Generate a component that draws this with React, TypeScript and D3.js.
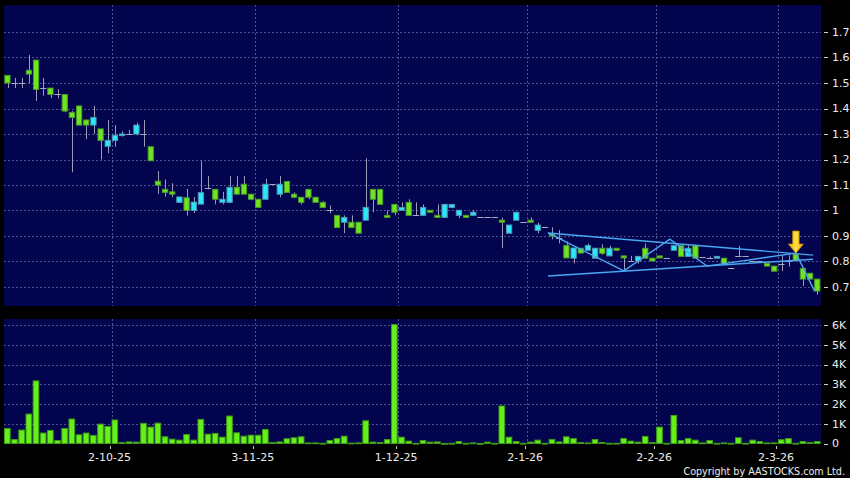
import React from 'react';
import * as d3 from 'd3';

const W = 850;
const H = 478;

// OHLC per trading day (index 0..113)
const opens = [
  1.53, 1.50, 1.50, 1.55, 1.59, 1.48, 1.48, 1.455, 1.455, 1.385,
  1.41, 1.355, 1.335, 1.32, 1.252, 1.275, 1.295, 1.30, 1.30, 1.30,
  1.25, 1.115, 1.083, 1.073, 1.032, 1.05, 1.00, 1.025, 1.09, 1.083,
  1.032, 1.032, 1.091, 1.103, 1.064, 1.044, 1.044, 1.103, 1.064, 1.114,
  1.064, 1.052, 1.083, 1.052, 1.032, 1.001, 0.981, 0.954, 0.954, 0.954,
  0.962, 1.083, 1.083, 0.981, 1.024, 1.001, 1.032, 0.981, 0.981, 1.001,
  0.981, 0.973, 1.012, 0.981, 0.981, 0.981, 0.973, 0.973, 0.973, 0.962,
  0.911, 0.962, 0.954, 0.962, 0.922, 0.934, 0.908, 0.893, 0.863, 0.813,
  0.852, 0.844, 0.813, 0.852, 0.822, 0.852, 0.822, 0.80, 0.802, 0.852,
  0.813, 0.822, 0.813, 0.844, 0.862, 0.82, 0.862, 0.818, 0.813, 0.813,
  0.813, 0.773, 0.82, 0.82, 0.80, 0.80, 0.792, 0.782, 0.792, 0.80,
  0.829, 0.773, 0.754, 0.731,
];
const highs = [
  1.53, 1.52, 1.52, 1.61, 1.59, 1.52, 1.48, 1.475, 1.455, 1.39,
  1.41, 1.355, 1.41, 1.32, 1.355, 1.335, 1.31, 1.315, 1.345, 1.355,
  1.25, 1.155, 1.122, 1.107, 1.053, 1.085, 1.053, 1.195, 1.135, 1.083,
  1.073, 1.135, 1.135, 1.135, 1.064, 1.044, 1.124, 1.103, 1.135, 1.114,
  1.071, 1.052, 1.083, 1.052, 1.036, 1.02, 0.981, 0.981, 0.981, 0.954,
  1.205, 1.083, 1.083, 1.001, 1.024, 1.032, 1.044, 1.032, 1.024, 1.001,
  1.024, 1.024, 1.024, 1.001, 0.981, 1.001, 0.973, 0.973, 0.973, 0.972,
  0.943, 0.993, 0.954, 0.973, 0.952, 0.934, 0.934, 0.923, 0.878, 0.853,
  0.852, 0.87, 0.852, 0.867, 0.862, 0.852, 0.822, 0.822, 0.82, 0.871,
  0.813, 0.822, 0.813, 0.862, 0.862, 0.862, 0.862, 0.818, 0.82, 0.82,
  0.813, 0.773, 0.862, 0.82, 0.80, 0.80, 0.792, 0.782, 0.825, 0.825,
  0.829, 0.773, 0.754, 0.731,
];
const lows = [
  1.48, 1.48, 1.48, 1.50, 1.43, 1.45, 1.44, 1.44, 1.385, 1.15,
  1.335, 1.28, 1.30, 1.20, 1.225, 1.25, 1.29, 1.30, 1.295, 1.25,
  1.195, 1.065, 1.054, 1.052, 1.032, 0.98, 0.99, 1.025, 1.083, 1.024,
  1.024, 1.032, 1.064, 1.064, 1.04, 1.012, 1.044, 1.103, 1.052, 1.071,
  1.048, 1.024, 1.044, 1.032, 1.012, 0.989, 0.933, 0.911, 0.933, 0.911,
  0.962, 0.993, 1.024, 0.973, 0.981, 1.001, 0.981, 0.981, 0.981, 0.993,
  0.973, 0.973, 1.012, 0.97, 0.973, 0.981, 0.973, 0.973, 0.973, 0.852,
  0.911, 0.962, 0.954, 0.954, 0.911, 0.934, 0.887, 0.871, 0.814, 0.792,
  0.833, 0.844, 0.813, 0.826, 0.822, 0.844, 0.763, 0.80, 0.792, 0.813,
  0.802, 0.814, 0.813, 0.844, 0.82, 0.82, 0.813, 0.818, 0.813, 0.813,
  0.792, 0.773, 0.82, 0.82, 0.80, 0.80, 0.782, 0.762, 0.762, 0.78,
  0.803, 0.704, 0.731, 0.67,
];
const closes = [
  1.50, 1.50, 1.50, 1.535, 1.475, 1.48, 1.455, 1.455, 1.39, 1.365,
  1.335, 1.335, 1.365, 1.275, 1.275, 1.295, 1.30, 1.30, 1.335, 1.30,
  1.195, 1.10, 1.071, 1.064, 1.053, 1.00, 1.033, 1.07, 1.09, 1.044,
  1.044, 1.091, 1.064, 1.064, 1.044, 1.012, 1.103, 1.103, 1.103, 1.071,
  1.052, 1.032, 1.052, 1.032, 1.012, 1.001, 0.933, 0.973, 0.933, 0.911,
  1.012, 1.044, 1.024, 0.973, 0.993, 1.012, 0.981, 0.981, 1.012, 0.993,
  0.973, 1.024, 1.024, 1.001, 0.973, 0.993, 0.973, 0.973, 0.973, 0.954,
  0.943, 0.993, 0.954, 0.954, 0.943, 0.934, 0.90, 0.893, 0.814, 0.853,
  0.833, 0.863, 0.852, 0.832, 0.852, 0.844, 0.814, 0.80, 0.82, 0.813,
  0.802, 0.814, 0.813, 0.862, 0.82, 0.852, 0.813, 0.818, 0.813, 0.82,
  0.792, 0.773, 0.82, 0.82, 0.80, 0.80, 0.782, 0.762, 0.792, 0.80,
  0.803, 0.731, 0.731, 0.684,
];
// volume in thousands of shares
const volumes = [
  0.76, 0.20, 0.68, 1.49, 3.17, 0.53, 0.66, 0.15, 0.76, 1.24,
  0.44, 0.53, 0.41, 0.98, 0.86, 1.19, 0.05, 0.08, 0.07, 1.02,
  0.83, 1.03, 0.34, 0.22, 0.17, 0.46, 0.17, 1.22, 0.47, 0.51,
  0.32, 1.39, 0.54, 0.37, 0.42, 0.42, 0.71, 0.05, 0.08, 0.24,
  0.29, 0.34, 0.03, 0.03, 0.01, 0.15, 0.25, 0.37, 0.02, 0.03,
  1.15, 0.07, 0.05, 0.20, 6.02, 0.32, 0.12, 0.01, 0.15, 0.07,
  0.08, 0.0, 0.01, 0.10, 0.01, 0.03, 0.0, 0.07, 0.01, 1.90,
  0.32, 0.10, 0.01, 0.07, 0.17, 0.01, 0.20, 0.08, 0.34, 0.25,
  0.05, 0.03, 0.20, 0.05, 0.01, 0.01, 0.25, 0.12, 0.07, 0.36,
  0.05, 0.83, 0.01, 1.42, 0.15, 0.25, 0.17, 0.03, 0.15, 0.01,
  0.03, 0.01, 0.29, 0.01, 0.17, 0.10, 0.03, 0.03, 0.19, 0.25,
  0.01, 0.10, 0.05, 0.10,
];

const priceTicks = [0.7, 0.8, 0.9, 1.0, 1.1, 1.2, 1.3, 1.4, 1.5, 1.6, 1.7];
const priceTickLabels = ['0.7', '0.8', '0.9', '1', '1.1', '1.2', '1.3', '1.4', '1.5', '1.6', '1.7'];
const volTicks = [0, 1, 2, 3, 4, 5, 6];
const volTickLabels = ['0', '1K', '2K', '3K', '4K', '5K', '6K'];
const monthIdx = [15, 35, 55, 73, 91, 108];
const monthLabels = ['2-10-25', '3-11-25', '1-12-25', '2-1-26', '2-2-26', '2-3-26'];

// annotation lines: [bar index (centre based, fractional), price]
const upperLine: [number, number][] = [[75.4, 0.912], [112.4, 0.825]];
const lowerLine: [number, number][] = [[75.4, 0.743], [112.4, 0.809]];
const zigzag: [number, number][] = [
  [75.4, 0.912], [86.0, 0.763], [92.4, 0.888], [97.6, 0.782], [110.0, 0.833], [112.6, 0.684],
];
const arrowIdx = 110;

const N = opens.length;
const PL = 4, PR = 821;
const P_TOP = 5, P_BOT = 306;
const V_TOP = 319, V_BOT = 444;

export default function App() {
  const xb = d3.scaleBand<number>().domain(d3.range(N)).range([PL, PR]).paddingInner(0).paddingOuter(0);
  const step = xb.step();
  const xl = d3.scaleLinear().domain([0, N]).range([PL, PR]);
  const y = d3.scaleLinear().domain([0.7, 1.7]).range([287, 32]);
  const yv = d3.scaleLinear().domain([0, 6]).range([443.5, 325]);
  const cx = (i: number) => xl(i + 0.5);

  const line = d3.line<[number, number]>().x((d) => cx(d[0])).y((d) => y(d[1]));

  const grid = '#4f5290';
  const font = '"DejaVu Sans", Verdana, sans-serif';

  const ax = cx(arrowIdx);
  const tipY = y(highs[arrowIdx]) - 1;
  const arrowPath = `M${ax - 3.2},${tipY - 22} L${ax + 3.2},${tipY - 22} L${ax + 3.2},${tipY - 9} L${ax + 7.5},${tipY - 9} L${ax},${tipY} L${ax - 7.5},${tipY - 9} L${ax - 3.2},${tipY - 9} Z`;

  return (
    <svg width={W} height={H} style={{ display: 'block', position: 'absolute', left: 0, top: 0 }}>
      <defs>
        <linearGradient id="arrowGrad" x1="0" x2="1" y1="0" y2="0">
          <stop offset="0" stopColor="#f0a800" />
          <stop offset="0.5" stopColor="#ffe04a" />
          <stop offset="1" stopColor="#f0a800" />
        </linearGradient>
        <clipPath id="pclip">
          <rect x={PL} y={P_TOP} width={PR - PL} height={P_BOT - P_TOP} />
        </clipPath>
      </defs>
      <rect x={0} y={0} width={W} height={H} fill="#000000" />
      {/* panels */}
      <rect x={PL} y={P_TOP} width={PR - PL} height={P_BOT - P_TOP} fill="#02044d" />
      <rect x={PL} y={V_TOP} width={PR - PL} height={V_BOT - V_TOP} fill="#02044d" />

      {/* price grid */}
      {priceTicks.map((t) => (
        <line key={'pg' + t} x1={PL} x2={PR} y1={Math.round(y(t)) + 0.5} y2={Math.round(y(t)) + 0.5}
          stroke={grid} strokeWidth={1} strokeDasharray="2,2" />
      ))}
      {volTicks.slice(1).map((t) => (
        <line key={'vg' + t} x1={PL} x2={PR} y1={Math.round(yv(t)) + 0.5} y2={Math.round(yv(t)) + 0.5}
          stroke={grid} strokeWidth={1} strokeDasharray="2,2" />
      ))}
      {monthIdx.map((m) => {
        const gx = Math.round(xb(m)!) + 0.5;
        return (
          <g key={'mg' + m}>
            <line x1={gx} x2={gx} y1={P_TOP} y2={P_BOT} stroke={grid} strokeDasharray="2,2" />
            <line x1={gx} x2={gx} y1={V_TOP} y2={V_BOT} stroke={grid} strokeDasharray="2,2" />
            <line x1={gx - 2} x2={gx - 2} y1={446} y2={449} stroke="#c8c8c8" />
          </g>
        );
      })}

      {/* candles */}
      <g clipPath="url(#pclip)">
        {d3.range(N).map((i) => {
          const o = opens[i], c = closes[i], h = highs[i], l = lows[i];
          const x0 = xb(i)!;
          const mx = Math.round(x0 + step / 2) + 0.5;
          const up = c > o;
          const doji = Math.abs(c - o) < 1e-9;
          const top = y(Math.max(o, c));
          const bot = y(Math.min(o, c));
          return (
            <g key={'c' + i}>
              <line x1={mx} x2={mx} y1={y(h)} y2={y(l)} stroke="#9a9bb8" strokeWidth={1} />
              {doji ? (
                <line x1={x0 + 0.3} x2={x0 + step - 0.6} y1={Math.round(top) + 0.5} y2={Math.round(top) + 0.5}
                  stroke="#a8aac4" strokeWidth={1} />
              ) : (
                <rect x={x0 + 0.8} y={top} width={step - 1.9} height={Math.max(bot - top, 1.5)}
                  fill={up ? '#2be7f7' : '#6fe51f'} stroke={up ? '#4f97b5' : '#4b9a2a'} strokeWidth={1} />
              )}
            </g>
          );
        })}
        <path d={line(upperLine) || ''} fill="none" stroke="#4aa6f0" strokeWidth={1.4} />
        <path d={line(lowerLine) || ''} fill="none" stroke="#4aa6f0" strokeWidth={1.4} />
        <path d={line(zigzag) || ''} fill="none" stroke="#4aa6f0" strokeWidth={1.4} />
        <path d={arrowPath} fill="url(#arrowGrad)" stroke="#c98f00" strokeWidth={0.8} />
      </g>

      {/* volume bars */}
      {d3.range(N).map((i) => {
        const x0 = xb(i)!;
        const top = yv(volumes[i]);
        return (
          <rect key={'v' + i} x={x0 + 0.5} y={top} width={step - 1.5} height={Math.max(yv(0) - top, 0.8)}
            fill="#66f01a" stroke="#3f9a18" strokeWidth={1} />
        );
      })}

      {/* right axis */}
      {priceTicks.map((t, k) => (
        <g key={'pt' + t}>
          <line x1={824} x2={828} y1={Math.round(y(t)) + 0.5} y2={Math.round(y(t)) + 0.5} stroke="#d0d0d0" />
          <text x={832} y={y(t)} dy="0.35em" fontSize={11} fontFamily={font} fill="#ececec">{priceTickLabels[k]}</text>
        </g>
      ))}
      {volTicks.map((t, k) => (
        <g key={'vt' + t}>
          <line x1={824} x2={828} y1={Math.round(yv(t)) + 0.5} y2={Math.round(yv(t)) + 0.5} stroke="#d0d0d0" />
          <text x={832} y={yv(t)} dy="0.35em" fontSize={11} fontFamily={font} fill="#ececec">{volTickLabels[k]}</text>
        </g>
      ))}

      {/* x labels */}
      {monthIdx.map((m, k) => (
        <text key={'ml' + m} x={xb(m)! - 2} y={461} textAnchor="middle" fontSize={11} fontFamily={font} fill="#ececec">
          {monthLabels[k]}
        </text>
      ))}
      <text x={845} y={475} textAnchor="end" fontSize={9.6} fontFamily={font} fill="#ececec">
        Copyright by AASTOCKS.com Ltd.
      </text>
    </svg>
  );
}
